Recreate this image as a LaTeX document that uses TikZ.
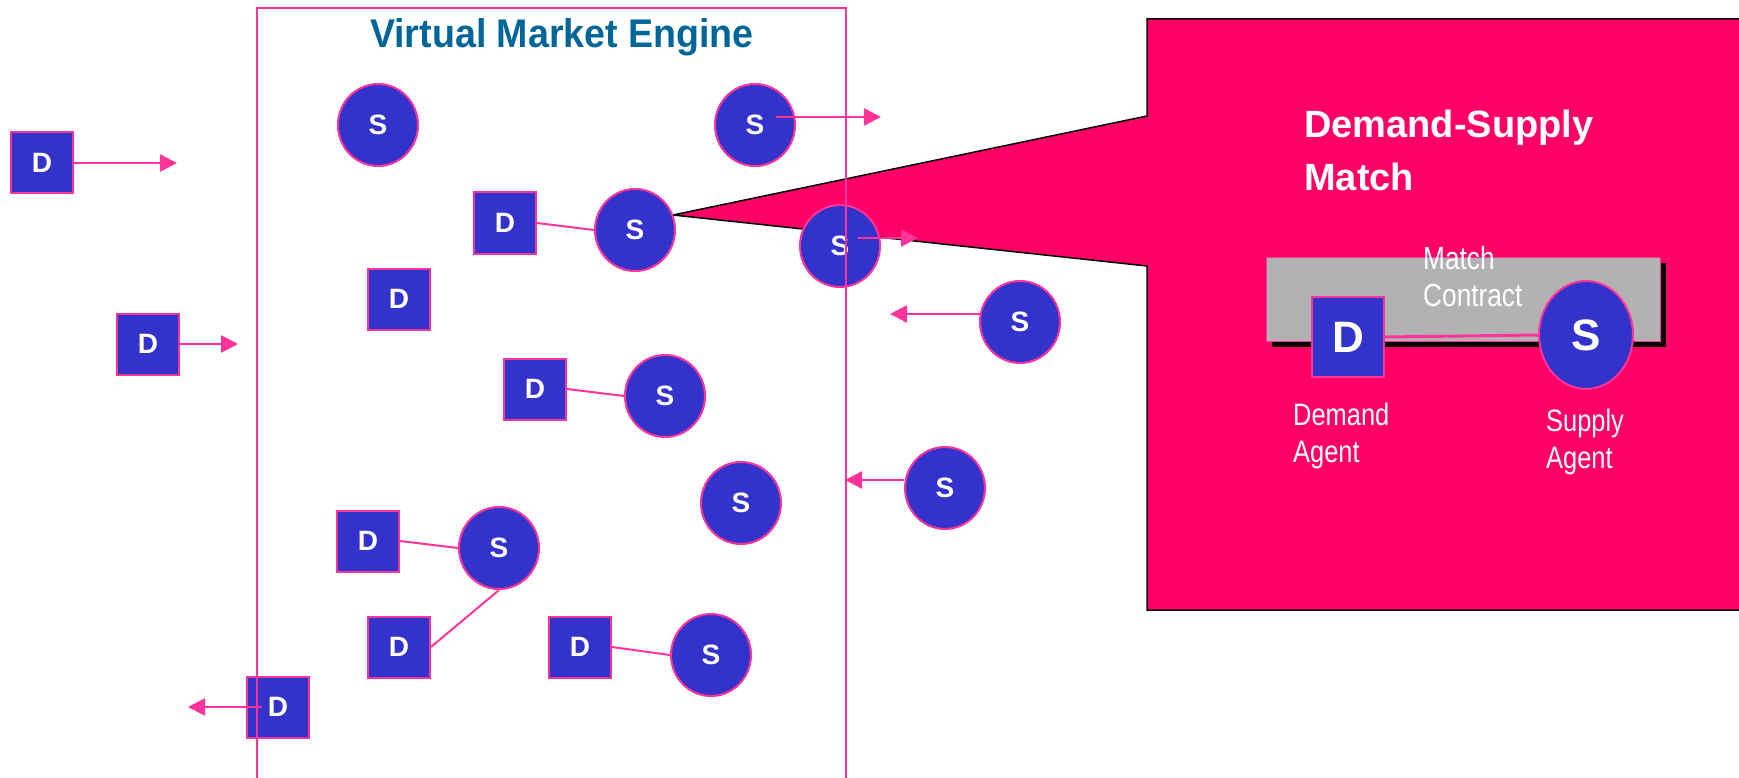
\documentclass[tikz,border=0pt]{standalone}
\usepackage{fontspec}
\setmainfont{Liberation Sans}
\newfontfamily\narrowfont[FakeStretch=0.82]{Liberation Sans}
\newfontfamily\titlefont[FakeStretch=0.94]{Liberation Sans}
\usetikzlibrary{shapes.geometric,arrows.meta}
\definecolor{nodeblue}{HTML}{3333CC}
\definecolor{pinkline}{HTML}{FF3399}
\definecolor{callout}{HTML}{FF0066}
\definecolor{titleblue}{HTML}{006699}
\definecolor{boxgray}{HTML}{B2B2B2}
\tikzset{
  dnode/.style={rectangle, fill=nodeblue, draw=pinkline, line width=2pt, minimum width=62pt, minimum height=61pt, inner sep=0pt, text=white, font=\fontsize{28}{30}\selectfont\bfseries},
  snode/.style={ellipse, fill=nodeblue, draw=pinkline, line width=2pt, minimum width=80pt, minimum height=82pt, inner sep=0pt, text=white, font=\fontsize{28}{30}\selectfont\bfseries},
  bigd/.style={dnode, minimum width=72pt, minimum height=80pt, font=\fontsize{44}{46}\selectfont\bfseries},
  bigs/.style={snode, minimum width=94pt, minimum height=108pt, font=\fontsize{44}{46}\selectfont\bfseries},
  link/.style={draw=pinkline, line width=2pt},
  arr/.style={draw=pinkline, line width=2.5pt, -{Triangle[length=17pt,width=17pt]}},
  narrow/.style={text=white, anchor=base west, inner sep=0pt, font=\narrowfont\fontsize{32}{36}\selectfont},
}
\begin{document}
\begin{tikzpicture}[x=1pt,y=-1pt]
\useasboundingbox (0,0) rectangle (1739,778);
% callout
\path[fill=callout, draw=black, line width=1.5pt] (1800,19) -- (1147,19) -- (1147,116) -- (673,215) -- (1147,266) -- (1147,610) -- (1800,610);
% title
\node[text=titleblue, font=\titlefont\fontsize{40}{44}\selectfont\bfseries, anchor=base, inner sep=0pt] (title) at (562,48) {Virtual Market Engine};
% D nodes
\node[dnode] (d1) at (42,163) {D};
\node[dnode] (d2) at (148,344) {D};
\node[dnode] (d3) at (505,223) {D};
\node[dnode] (d4) at (399,299) {D};
\node[dnode] (d5) at (535,389) {D};
\node[dnode] (d6) at (368,541) {D};
\node[dnode] (d7) at (399,647) {D};
\node[dnode] (d8) at (580,647) {D};
\node[dnode] (d9) at (278,707) {D};
% S nodes
\node[snode] (s1) at (378,125) {S};
\node[snode] (s2) at (755,125) {S};
\node[snode] (s3) at (635,230) {S};
\node[snode] (s4) at (840,246) {S};
\node[snode] (s5) at (665,396) {S};
\node[snode] (s6) at (499,548) {S};
\node[snode] (s7) at (711,655) {S};
\node[snode] (s8) at (1020,322) {S};
\node[snode] (s9) at (741,503) {S};
\node[snode] (s10) at (945,488) {S};
% links
\draw[link] (d3.east) -- (s3.west);
\draw[link] (d5.east) -- (s5.west);
\draw[link] (d6.east) -- (s6.west);
\draw[link] (d7.east) -- (s6.south);
\draw[link] (d8.east) -- (s7.west);
% arrows
\coordinate (e1) at (177,163);
\coordinate (e2) at (238,344);
\coordinate (a2) at (776,117);
\coordinate (e3) at (881,117);
\coordinate (a4) at (858,238);
\coordinate (e4) at (918,238);
\coordinate (a8) at (981,314);
\coordinate (e8) at (890,314);
\coordinate (a10) at (904,480);
\coordinate (e10) at (845,480);
\coordinate (a9) at (262,707);
\coordinate (e9) at (188,707);
\draw[arr] (d1.east) -- (e1);
\draw[arr] (d2.east) -- (e2);
\draw[arr] (a2) -- (e3);
\draw[arr] (a4) -- (e4);
\draw[arr] (a8) -- (e8);
\draw[arr] (a10) -- (e10);
\draw[arr] (a9) -- (e9);
% engine frame
\draw[draw=pinkline, line width=1.5pt] (257,800) -- (257,8) -- (846,8) -- (846,800);
% right panel
\node[text=white, anchor=base west, inner sep=0pt, font=\fontsize{38}{40}\selectfont\bfseries] (t1) at (1304,138) {Demand-Supply};
\node[text=white, anchor=base west, inner sep=0pt, font=\fontsize{38}{40}\selectfont\bfseries] (t2) at (1304,190) {Match};
\fill[black] (1272,263) rectangle (1666,347);
\path[fill=boxgray, draw=pinkline, line width=1pt] (1266,257) rectangle (1660,341);
\node[narrow] (m1) at (1423,269) {Match};
\node[narrow] (m2) at (1423,306) {Contract};
\node[bigd] (bd) at (1348,337) {D};
\node[bigs] (bs) at (1586,335) {S};
\draw[draw=pinkline, line width=3pt] (bd.east) -- (bs.west);
\node[narrow, font=\narrowfont\fontsize{31}{34}\selectfont] (da1) at (1293,425) {Demand};
\node[narrow, font=\narrowfont\fontsize{31}{34}\selectfont] (da2) at (1293,462) {Agent};
\node[narrow, font=\narrowfont\fontsize{31}{34}\selectfont] (sa1) at (1546,431) {Supply};
\node[narrow, font=\narrowfont\fontsize{31}{34}\selectfont] (sa2) at (1546,468) {Agent};
\end{tikzpicture}
\end{document}
